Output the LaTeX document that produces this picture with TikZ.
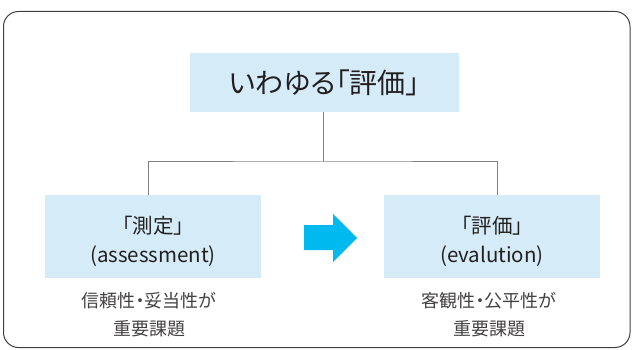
\documentclass[tikz,border=0pt]{standalone}
\usepackage{fontspec}
\newfontfamily\jp{Noto Sans CJK JP}
\newfontfamily\jpp[RawFeature=+palt]{Noto Sans CJK JP}
\definecolor{boxblue}{HTML}{D5EBF8}
\definecolor{arrowblue}{HTML}{00B9EF}
\definecolor{framegray}{HTML}{404040}
\definecolor{linegray}{HTML}{808080}
\definecolor{textgray}{HTML}{231F20}
\begin{document}
\begin{tikzpicture}[x=1pt,y=-1pt,
  bluebox/.style={fill=boxblue,draw=none,inner sep=0pt,align=center,text=textgray},
  boxtext/.style={inner sep=0pt,align=center,text=textgray,font=\jpp\fontsize{20.5}{29}\selectfont},
  conn/.style={draw=linegray,line width=1pt},
  note/.style={align=center,text=textgray!85,font=\jpp\fontsize{18}{28}\selectfont}]
\useasboundingbox (0,0) rectangle (635,350);
\draw[framegray,line width=1pt,rounded corners=15pt] (3.5,11.5) rectangle (630,347.5);
\node[bluebox,minimum width=269pt,minimum height=59pt,font=\jpp\fontsize{28}{30}\selectfont] (top) at (324.5,82.5) {いわゆる「評価」};
\node[bluebox,minimum width=216pt,minimum height=83pt] (meas) at (153,236.5) {};
\node[bluebox,minimum width=216pt,minimum height=83pt] (eval) at (492,236.5) {};
\node[boxtext] (measT) at (153,241) {「測定」\\(assessment)};
\node[boxtext] (evalT) at (492,241) {「評価」\\(evalution)};
\coordinate (mid) at (323,162);
\draw[conn] (top.south -| mid) -- (mid);
\draw[conn] (meas.north -| 148,0) |- (mid) -| (eval.north -| 497,0);
\fill[arrowblue] (304,225) -- (333,225) -- (333,214) -- (357,238) -- (333,262) -- (333,250) -- (304,250) -- cycle;
\node[note] (n1) at (149,315) {信頼性・妥当性が\\重要課題};
\node[note] (n2) at (489,315) {客観性・公平性が\\重要課題};
\end{tikzpicture}
\end{document}
